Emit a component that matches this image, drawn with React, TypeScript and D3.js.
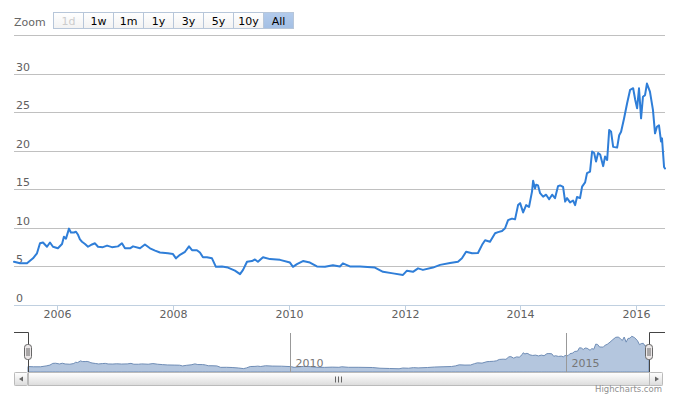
import * as d3 from "d3";

// price series (roughly one point every few weeks)
const dates = [
  "2005-04-03", "2005-05-11", "2005-06-24", "2005-08-01", "2005-08-26", "2005-09-14", "2005-10-03", "2005-10-28",
  "2005-11-16", "2005-12-05", "2006-01-05", "2006-01-31", "2006-02-12", "2006-02-25", "2006-03-16", "2006-03-28",
  "2006-04-16", "2006-04-29", "2006-05-12", "2006-05-24", "2006-06-06", "2006-06-25", "2006-07-14", "2006-08-08",
  "2006-08-27", "2006-09-15", "2006-10-16", "2006-11-11", "2006-12-12", "2007-01-19", "2007-02-13", "2007-03-04",
  "2007-04-05", "2007-04-24", "2007-06-07", "2007-07-08", "2007-08-09", "2007-09-10", "2007-10-11", "2007-11-30",
  "2008-01-01", "2008-01-20", "2008-02-14", "2008-03-17", "2008-04-11", "2008-04-30", "2008-05-31", "2008-06-19",
  "2008-07-08", "2008-08-02", "2008-09-03", "2008-09-28", "2008-11-05", "2008-12-13", "2009-01-26", "2009-02-27",
  "2009-03-18", "2009-04-12", "2009-05-13", "2009-06-01", "2009-06-20", "2009-07-22", "2009-09-04", "2009-11-06",
  "2010-01-08", "2010-01-27", "2010-02-21", "2010-03-31", "2010-05-14", "2010-06-27", "2010-08-17", "2010-10-06",
  "2010-11-19", "2010-12-08", "2011-01-21", "2011-03-26", "2011-06-28", "2011-08-18", "2011-10-20", "2011-12-22",
  "2012-01-16", "2012-02-23", "2012-03-26", "2012-04-26", "2012-06-28", "2012-08-12", "2012-10-14", "2012-12-03",
  "2012-12-28", "2013-01-23", "2013-03-02", "2013-04-08", "2013-05-04", "2013-05-23", "2013-06-23", "2013-07-25",
  "2013-08-13", "2013-09-07", "2013-09-26", "2013-10-15", "2013-11-09", "2013-11-28", "2013-12-17", "2013-12-30",
  "2014-01-18", "2014-02-06", "2014-02-24", "2014-03-15", "2014-03-22", "2014-04-03", "2014-04-10", "2014-04-22",
  "2014-05-05", "2014-05-24", "2014-06-12", "2014-07-01", "2014-07-20", "2014-08-07", "2014-08-26", "2014-09-08",
  "2014-09-27", "2014-10-10", "2014-10-22", "2014-11-10", "2014-11-29", "2014-12-12", "2014-12-24", "2015-01-12",
  "2015-01-25", "2015-02-13", "2015-02-25", "2015-03-16", "2015-03-29", "2015-04-11", "2015-04-23", "2015-05-06",
  "2015-05-19", "2015-06-07", "2015-06-19", "2015-07-02", "2015-07-15", "2015-07-27", "2015-08-09", "2015-09-03",
  "2015-09-16", "2015-09-28", "2015-10-17", "2015-11-05", "2015-11-24", "2015-12-13", "2015-12-26", "2016-01-07",
  "2016-01-19", "2016-02-01", "2016-02-13", "2016-02-26", "2016-03-09", "2016-03-28", "2016-04-16", "2016-04-29",
  "2016-05-11", "2016-05-24", "2016-06-06", "2016-06-12", "2016-06-25", "2016-07-01",
];
const prices = [
  5.6, 5.4, 5.4, 6.05, 6.7, 8.0, 8.1, 7.55,
  8.1, 7.55, 7.35, 7.9, 8.85, 8.6, 9.9, 9.4,
  9.4, 9.5, 9.1, 8.5, 8.2, 7.9, 7.55, 7.85,
  8.0, 7.55, 7.5, 7.7, 7.5, 7.6, 8.0, 7.35,
  7.35, 7.6, 7.35, 7.85, 7.35, 7.05, 6.8, 6.7,
  6.6, 6.05, 6.5, 6.9, 7.6, 7.1, 7.1, 6.8,
  6.2, 6.2, 6.05, 4.95, 5.0, 4.85, 4.45, 4.0,
  4.55, 5.6, 5.7, 5.9, 5.6, 6.2, 5.95, 5.85,
  5.5, 4.95, 5.3, 5.7, 5.5, 5.0, 4.95, 5.15,
  5.0, 5.4, 5.0, 5.0, 4.85, 4.3, 4.1, 3.9,
  4.45, 4.3, 4.75, 4.55, 4.85, 5.2, 5.45, 5.6,
  6.05, 6.9, 6.7, 6.75, 7.8, 8.4, 8.2, 9.3,
  9.45, 9.6, 9.95, 11.0, 11.2, 11.1, 12.95, 13.2,
  12.0, 12.95, 12.7, 14.7, 16.1, 15.1, 15.6, 15.5,
  14.5, 14.05, 14.3, 13.7, 14.3, 13.85, 15.4, 15.5,
  15.3, 13.4, 13.85, 13.3, 13.55, 12.95, 14.0, 13.85,
  15.35, 15.9, 17.1, 17.3, 19.9, 19.7, 18.6, 19.7,
  19.5, 18.0, 19.25, 18.8, 22.7, 22.45, 20.5, 20.4,
  22.0, 22.45, 24.2, 26.15, 27.9, 28.1, 26.6, 25.5,
  28.1, 24.2, 27.0, 27.2, 28.7, 27.65, 25.3, 22.25,
  23.1, 23.3, 21.2, 21.6, 17.9, 17.7,
];
const yTicks = [0, 5, 10, 15, 20, 25, 30, 35];
const yLabelTicks = [0, 5, 10, 15, 20, 25, 30];
const xTickYears = [2006, 2008, 2010, 2012, 2014, 2016];
const navTickYears = [2010, 2015];
const zoomButtons = ["1d", "1w", "1m", "1y", "3y", "5y", "10y", "All"];

const W = 677;
const H = 397;
const plot = {left: 14, right: 665, top: 35, bottom: 305};
const nav = {left: 28, right: 649, top: 333, bottom: 372};
const FONT = '"DejaVu Sans", Verdana, sans-serif';

const crisp = (v: number) => Math.round(v) + 0.5;

function Handle({cx}: {cx: number}) {
  const x0 = Math.round(cx) - 3.5;
  return (
    <g>
      <rect x={x0} y={344.5} width={7} height={15} rx={3} fill="#ebe7e8" stroke="#666" />
      <path d={`M${x0 + 2.5},348V356M${x0 + 4.5},348V356`} stroke="#666" />
    </g>
  );
}

export default function App() {
  const data = dates.map((d, i) => ({date: new Date(d), value: prices[i]}));

  const x = d3
    .scaleUtc()
    .domain(d3.extent(data, (d) => d.date) as [Date, Date])
    .range([plot.left, plot.right]);
  const y = d3.scaleLinear().domain([0, 35]).range([plot.bottom, plot.top]);

  // navigator uses the full range, slightly inset
  const nx = x.copy().range([nav.left, nav.right]);
  const [lo, hi] = d3.extent(prices) as [number, number];
  const pad = (hi - lo) * 0.1;
  const ny = d3.scaleLinear().domain([lo - pad, hi + pad]).range([nav.bottom, nav.top]);

  const line = d3
    .line<{date: Date; value: number}>()
    .x((d) => x(d.date))
    .y((d) => y(d.value));
  const area = d3
    .area<{date: Date; value: number}>()
    .x((d) => nx(d.date))
    .y0(nav.bottom)
    .y1((d) => ny(d.value));

  const yearDate = (yr: number) => new Date(Date.UTC(yr, 0, 1));
  const sbTop = 372.5;
  const sbH = 13;

  return (
    <svg
      width={W}
      height={H}
      style={{position: "absolute", left: 0, top: 0, background: "#fff"}}
      fontFamily={FONT}
    >
      <defs>
        <linearGradient id="btn" x1="0" y1="0" x2="0" y2="1">
          <stop offset="0" stopColor="#ffffff" />
          <stop offset="1" stopColor="#f2f2f2" />
        </linearGradient>
        <linearGradient id="btnSel" x1="0" y1="0" x2="0" y2="1">
          <stop offset="0" stopColor="#b3cbeb" />
          <stop offset="1" stopColor="#a3bfe4" />
        </linearGradient>
        <linearGradient id="sb" x1="0" y1="0" x2="0" y2="1">
          <stop offset="0" stopColor="#ffffff" />
          <stop offset="1" stopColor="#dcdcdc" />
        </linearGradient>
      </defs>

      {/* range selector */}
      <text x={14} y={26} fontSize={11} fill="#666">Zoom</text>
      {zoomButtons.map((b, i) => {
        const bx = 53 + i * 30;
        const sel = b === "All";
        const disabled = b === "1d";
        return (
          <g key={b}>
            <rect
              x={bx + 0.5}
              y={12.5}
              width={30}
              height={16}
              fill={sel ? "url(#btnSel)" : "url(#btn)"}
              stroke="#b7c6d9"
            />
            <text
              x={bx + 15.5}
              y={25}
              textAnchor="middle"
              fontSize={11}
              fill={disabled ? "#cccccc" : "#000"}
            >
              {b}
            </text>
          </g>
        );
      })}

      {/* grid */}
      {yTicks.map((t) => (
        <line
          key={t}
          x1={plot.left}
          x2={plot.right}
          y1={crisp(y(t))}
          y2={crisp(y(t))}
          stroke="#c0c0c0"
        />
      ))}
      {yLabelTicks.map((t) => (
        <text key={t} x={16} y={Math.round(y(t)) - 3} fontSize={11} fill="#606060">
          {t}
        </text>
      ))}

      {/* x axis */}
      <line x1={plot.left} x2={plot.right} y1={crisp(plot.bottom)} y2={crisp(plot.bottom)} stroke="#c0d0e0" />
      {xTickYears.map((yr) => {
        const tx = crisp(x(yearDate(yr)));
        return (
          <g key={yr}>
            <line x1={tx} x2={tx} y1={plot.bottom} y2={plot.bottom + 5} stroke="#c0d0e0" />
            <text x={tx} y={318} textAnchor="middle" fontSize={11} fill="#606060">
              {yr}
            </text>
          </g>
        );
      })}

      {/* series */}
      <path
        d={line(data) || ""}
        fill="none"
        stroke="#2f7ed8"
        strokeWidth={2}
        strokeLinejoin="round"
        strokeLinecap="round"
      />

      {/* navigator */}
      <path d={area(data) || ""} fill="#b4c6de" stroke="#6f8db6" strokeWidth={1} />
      {navTickYears.map((yr) => {
        const tx = crisp(nx(yearDate(yr)));
        return (
          <g key={yr}>
            <line x1={tx} x2={tx} y1={nav.top} y2={nav.bottom} stroke="#999" />
            <text x={tx + 5} y={367} fontSize={11} fill="#777">
              {yr}
            </text>
          </g>
        );
      })}
      <path
        d={`M${plot.left},${nav.top - 0.5}H${nav.left + 0.5}V${nav.bottom}M${nav.right + 0.5},${nav.bottom}V${nav.top - 0.5}H${plot.right}`}
        fill="none"
        stroke="#444"
      />
      <Handle cx={nav.left} />
      <Handle cx={nav.right} />

      {/* scrollbar */}
      <rect x={14.5} y={sbTop} width={648} height={sbH} fill="#eeeeee" stroke="#eeeeee" />
      <rect x={nav.left + 0.5} y={sbTop} width={nav.right - nav.left} height={sbH} fill="url(#sb)" stroke="#bbbbbb" />
      <path
        d={`M${(nav.left + nav.right) / 2 - 3},376.5V382.5M${(nav.left + nav.right) / 2},376.5V382.5M${(nav.left + nav.right) / 2 + 3},376.5V382.5`}
        stroke="#666"
      />
      <rect x={14.5} y={sbTop} width={13} height={sbH} rx={1} fill="url(#sb)" stroke="#bbbbbb" />
      <path d="M19,379L23,376.5V381.5Z" fill="#666" />
      <rect x={nav.right + 0.5} y={sbTop} width={13} height={sbH} rx={1} fill="url(#sb)" stroke="#bbbbbb" />
      <path d="M659,379L655,376.5V381.5Z" fill="#666" />

      <text x={662} y={392} textAnchor="end" fontSize={8.5} fill="#909090">
        Highcharts.com
      </text>
    </svg>
  );
}
